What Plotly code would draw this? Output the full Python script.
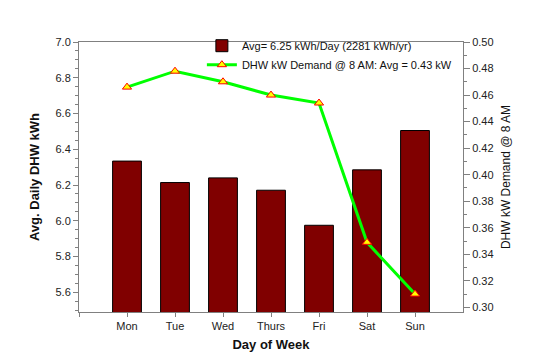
import plotly.graph_objects as go

days = ["Mon", "Tue", "Wed", "Thurs", "Fri", "Sat", "Sun"]
avg_kwh = [6.334, 6.214, 6.240, 6.171, 5.975, 6.285, 6.505]
demand_kw = [0.466, 0.478, 0.470, 0.460, 0.454, 0.349, 0.310]
bar_name = "Avg= 6.25 kWh/Day (2281 kWh/yr)"
line_name = "DHW kW Demand @ 8 AM: Avg = 0.43 kW"

xpos = list(range(len(days)))

FONT = "Liberation Sans, Arial, sans-serif"
AXIS = "#808080"

fig = go.Figure()
fig.add_trace(go.Bar(
    x=xpos, y=avg_kwh, name=bar_name, width=0.6,
    marker=dict(color="#800000", line=dict(color="#000000", width=1)),
    yaxis="y",
))
fig.add_trace(go.Scatter(
    x=xpos, y=demand_kw, name=line_name, mode="lines+markers",
    line=dict(color="#00FF00", width=3),
    marker=dict(symbol="triangle-up", size=8, color="#FFFF00",
                line=dict(color="#FF0000", width=1)),
    yaxis="y2",
))

fig.update_layout(
    width=533, height=362,
    margin=dict(l=71, r=78, t=34, b=58),
    paper_bgcolor="white", plot_bgcolor="white",
    font=dict(family=FONT, size=11, color="#222222"),
    bargap=0.4,
    showlegend=True,
    legend=dict(x=0.32, y=1.04, xanchor="left", yanchor="top",
                bgcolor="rgba(0,0,0,0)", font=dict(size=11, color="#111111"),
                tracegroupgap=0),
    xaxis=dict(
        range=[-1, 7], tickmode="array",
        tickvals=[-1] + xpos, ticktext=[""] + days,
        showgrid=False, zeroline=False,
        showline=True, linecolor=AXIS, linewidth=1, mirror=True,
        ticks="outside", ticklen=4, tickcolor=AXIS,
        title=dict(text="<b>Day of Week</b>", font=dict(size=13, color="#111111"), standoff=8),
    ),
    yaxis=dict(
        range=[5.49, 7.0], tickmode="linear", tick0=5.6, dtick=0.2,
        tickformat=".1f",
        showgrid=False, zeroline=False,
        showline=True, linecolor=AXIS, linewidth=1,
        ticks="outside", ticklen=5, tickcolor=AXIS,
        minor=dict(dtick=0.05, tick0=5.5, ticks="outside", ticklen=3, tickcolor=AXIS),
        title=dict(text="<b>Avg. Daily DHW kWh</b>", font=dict(size=13, color="#111111"), standoff=12),
    ),
    yaxis2=dict(
        range=[0.2965, 0.5], overlaying="y", side="right",
        tickmode="linear", tick0=0.30, dtick=0.02, tickformat=".2f",
        showgrid=False, zeroline=False,
        showline=True, linecolor=AXIS, linewidth=1,
        ticks="outside", ticklen=6, tickcolor=AXIS,
        minor=dict(dtick=0.01, ticks="outside", ticklen=3, tickcolor=AXIS),
        title=dict(text="DHW kW Demand @ 8 AM", font=dict(size=12, color="#111111"), standoff=8),
    ),
)

fig.write_html("out.html")
